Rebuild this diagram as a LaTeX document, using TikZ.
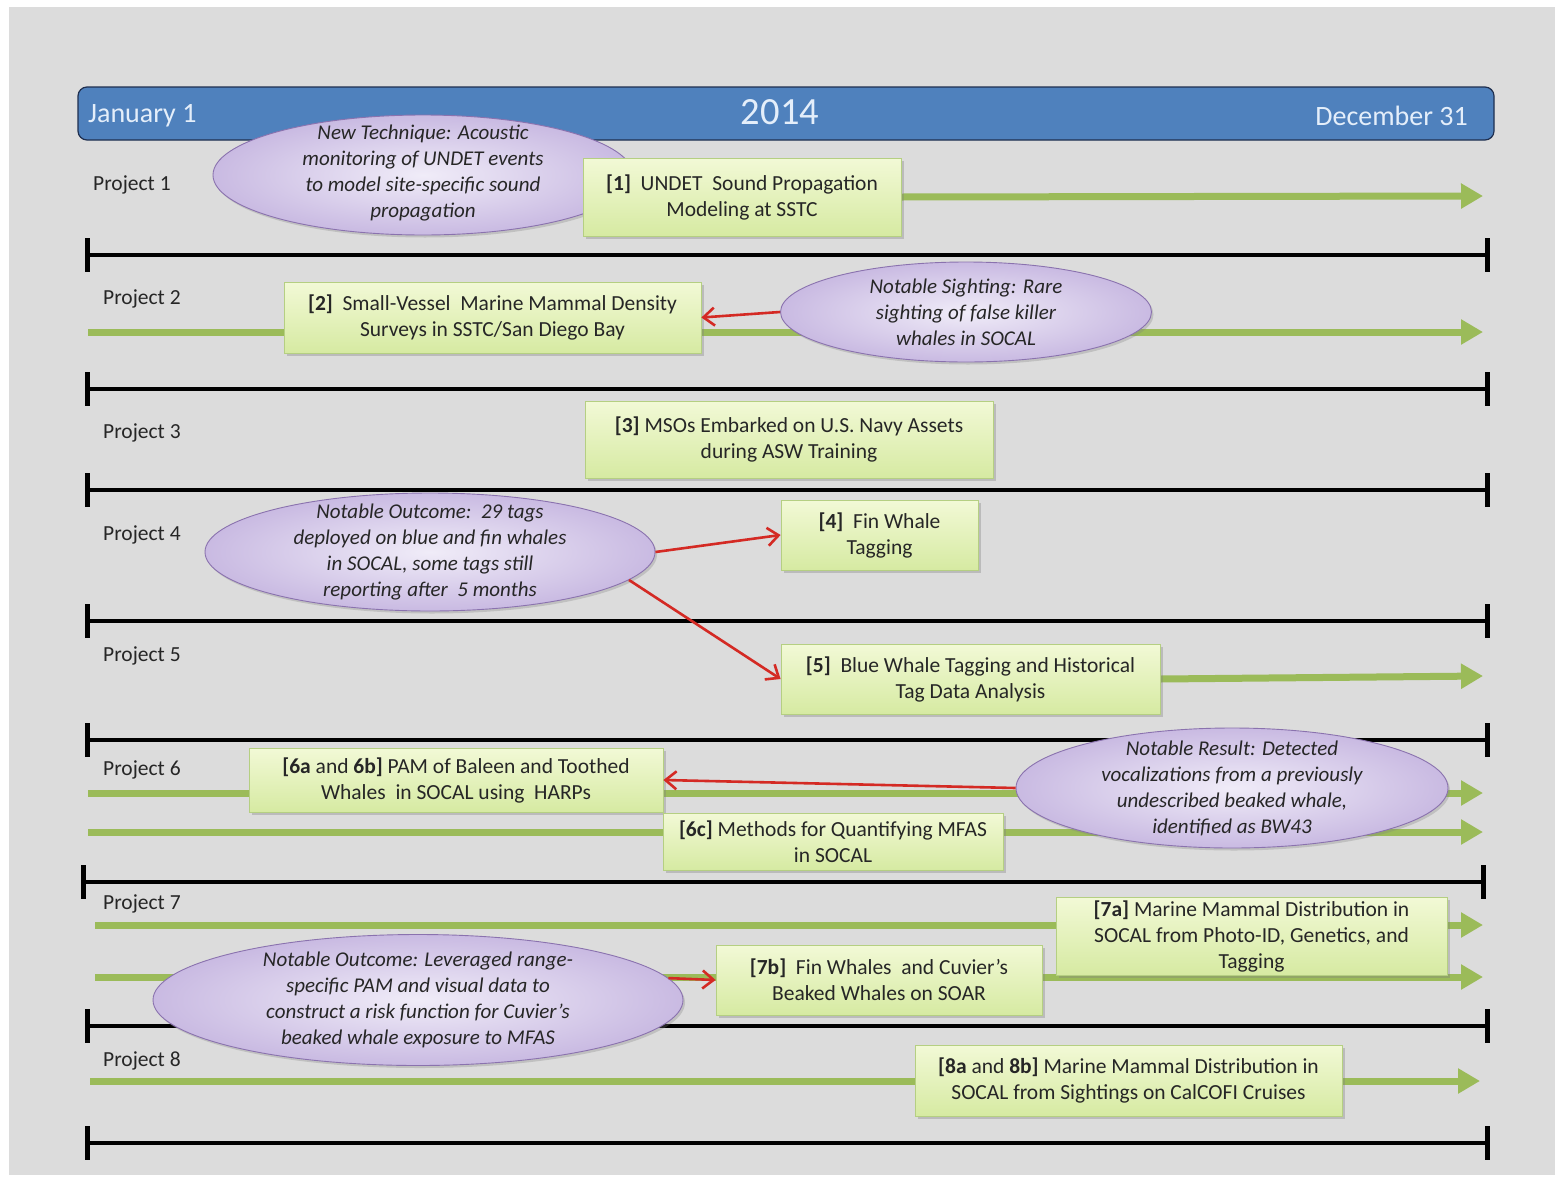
\documentclass[tikz,border=0pt]{standalone}
\usepackage{fontspec}
\setmainfont{Carlito}
\usetikzlibrary{arrows.meta,shapes.geometric,shadows}
\definecolor{panel}{HTML}{DCDCDC}
\definecolor{hdrblue}{HTML}{4F81BD}
\definecolor{hdrline}{HTML}{1F2F4F}
\definecolor{grn}{HTML}{9BBB59}
\definecolor{boxtop}{HTML}{F2F9D6}
\definecolor{boxbot}{HTML}{D6EAA2}
\definecolor{boxline}{HTML}{B5CF82}
\definecolor{ellin}{HTML}{F0ECF8}
\definecolor{ellout}{HTML}{C9BAE2}
\definecolor{ellline}{HTML}{8A72AE}
\definecolor{redarr}{HTML}{D42A24}
\definecolor{txt}{HTML}{262626}
\definecolor{hdrtxt}{HTML}{E4EEFA}
\pgfdeclarelayer{bg}
\pgfsetlayers{bg,main}
\tikzset{
  hdr/.style={draw=hdrline, line width=1.2pt, fill=hdrblue, rounded corners=9pt},
  hdrlab/.style={text=hdrtxt, font=\fontsize{28}{32}\selectfont, inner sep=0pt},
  projlab/.style={text=txt, font=\fontsize{21.5}{24}\selectfont, anchor=west, inner sep=0pt},
  gbox/.style={draw=boxline, line width=0.8pt, top color=boxtop, bottom color=boxbot,
    drop shadow={shadow xshift=2.5pt, shadow yshift=-2.5pt, opacity=0.35, fill=gray},
    text=txt, align=center, inner sep=0pt, font=\fontsize{21.5}{26}\selectfont},
  ell/.style={ellipse, draw=ellline, line width=0.9pt, inner color=ellin, outer color=ellout,
    drop shadow={shadow xshift=2pt, shadow yshift=-2.5pt, opacity=0.3, fill=gray}, inner sep=0pt},
  elltext/.style={text=txt, align=center, inner sep=0pt, font=\fontsize{21}{26}\selectfont\itshape},
  garrow/.style={draw=grn, line width=7pt, -{Triangle[length=22pt,width=24pt]}},
  redarrow/.style={draw=redarr, line width=2.6pt, -{Straight Barb[length=11pt,width=18pt,line width=2.6pt]}},
  sepline/.style={line width=4.5pt, black},
  septick/.style={line width=5pt, black}
}
\begin{document}
\begin{tikzpicture}[x=1pt,y=-1pt]
\useasboundingbox (0,0) rectangle (1566,1178);
\begin{pgfonlayer}{bg}
  \fill[white] (0,0) rectangle (1566,1178);
  \fill[panel] (9,7) rectangle (1555,1175);
\end{pgfonlayer}

% header
\node[hdr, minimum width=1416pt, minimum height=53pt] (hdr) at (786,113.5) {};
\node[hdrlab, anchor=west] (jan) at (88,116) {January 1};
\node[hdrlab, font=\fontsize{38.5}{42}\selectfont] (yr) at (780,112) {2014};
\node[hdrlab, anchor=east] (dec) at (1468,116) {December 31};

% project labels
\node[projlab] (p1) at (93,185) {Project 1};
\node[projlab] (p2) at (103,299) {Project 2};
\node[projlab] (p3) at (103,433) {Project 3};
\node[projlab] (p4) at (103,535) {Project 4};
\node[projlab] (p5) at (103,656) {Project 5};
\node[projlab] (p6) at (103,770) {Project 6};
\node[projlab] (p7) at (103,904) {Project 7};
\node[projlab] (p8) at (103,1061) {Project 8};

% ellipses
\node[ell, minimum width=420pt, minimum height=120pt] (E1) at (423,175) {};
\node[elltext] (E1t) at (423,173) {New Technique: Acoustic\\monitoring of UNDET events\\to model site-specific sound\\propagation};
\node[ell, minimum width=371pt, minimum height=100pt] (E2) at (966,312) {};
\node[elltext] (E2t) at (966,312) {Notable Sighting: Rare\\sighting of false killer\\whales in SOCAL};
\node[ell, minimum width=450pt, minimum height=118pt] (E3) at (430,552) {};
\node[elltext] (E3t) at (430,552) {Notable Outcome:\ \ 29 tags\\deployed on blue and fin whales\\in SOCAL, some tags still\\reporting after\ \ 5 months};
\node[ell, minimum width=432pt, minimum height=120pt] (E4) at (1232,788) {};
\node[elltext] (E4t) at (1232,788) {Notable Result: Detected\\vocalizations from a previously\\undescribed beaked whale,\\identified as BW43};
\node[ell, minimum width=530pt, minimum height=131pt] (E5) at (418,1000) {};
\node[elltext] (E5t) at (418,1000) {Notable Outcome: Leveraged range-\\specific PAM and visual data to\\construct a risk function for Cuvier’s\\beaked whale exposure to MFAS};

% boxes
\node[gbox, minimum width=318pt, minimum height=78pt] (b1) at (742,197) {\textbf{[1]}\ \ UNDET\ \ Sound Propagation\\Modeling at SSTC};
\node[gbox, minimum width=417pt, minimum height=71pt] (b2) at (492.5,317.5) {\textbf{[2]}\ \ Small-Vessel\ \ Marine Mammal Density\\Surveys in SSTC/San Diego Bay};
\node[gbox, minimum width=408pt, minimum height=77pt] (b3) at (789,439.5) {\textbf{[3]} MSOs Embarked on U.S. Navy Assets\\during ASW Training};
\node[gbox, minimum width=197pt, minimum height=70pt] (b4) at (879.5,535) {\textbf{[4]}\ \ Fin Whale\\Tagging};
\node[gbox, minimum width=379pt, minimum height=70pt] (b5) at (970.5,679) {\textbf{[5]}\ \ Blue Whale Tagging and Historical\\Tag Data Analysis};
\node[gbox, minimum width=414pt, minimum height=64pt] (b6ab) at (456,780) {\textbf{[6a} and \textbf{6b]} PAM of Baleen and Toothed\\Whales\ \ in SOCAL using\ \ HARPs};
\node[gbox, minimum width=340pt, minimum height=57pt] (b6c) at (833,841.5) {\textbf{[6c]} Methods for Quantifying MFAS\\in SOCAL};
\node[gbox, minimum width=391pt, minimum height=78pt] (b7a) at (1251.5,936) {\textbf{[7a]} Marine Mammal Distribution in\\SOCAL from Photo-ID, Genetics, and\\Tagging};
\node[gbox, minimum width=326pt, minimum height=70pt] (b7b) at (879,980) {\textbf{[7b]}\ \ Fin Whales\ \ and Cuvier’s\\Beaked Whales on SOAR};
\node[gbox, minimum width=427pt, minimum height=71pt] (b8) at (1128.5,1080.5) {\textbf{[8a} and \textbf{8b]} Marine Mammal Distribution in\\SOCAL from Sightings on CalCOFI Cruises};

% timeline end points
\coordinate (e1) at (1483,196);
\coordinate (s2) at (88,332);  \coordinate (e2) at (1483,332);
\coordinate (e5) at (1483,676);
\coordinate (s6a) at (88,793); \coordinate (e6a) at (1483,793);
\coordinate (s6c) at (88,832); \coordinate (e6c) at (1483,832);
\coordinate (s7a) at (95,925); \coordinate (e7a) at (1483,925);
\coordinate (s7b) at (95,977); \coordinate (e7b) at (1483,977);
\coordinate (s8) at (90,1081); \coordinate (e8) at (1480,1081);

\begin{pgfonlayer}{bg}
  % separators
  \foreach \yy/\xa/\xb in {255/87/1487, 389/87/1487, 490/87/1487, 621/87/1487, 740/87/1487, 882/83/1483, 1026/87/1487, 1143/87/1487}{
    \draw[sepline] (\xa,\yy) -- (\xb,\yy);
    \draw[septick] (\xa,\yy-17) -- (\xa,\yy+17);
    \draw[septick] (\xb,\yy-17) -- (\xb,\yy+17);
  }
  % green arrows
  \draw[garrow] (b1.east) -- (e1);
  \draw[garrow] (s2) -- (e2);
  \draw[garrow] (b5.east) -- (e5);
  \draw[garrow] (s6a) -- (e6a);
  \draw[garrow] (s6c) -- (e6c);
  \draw[garrow] (s7a) -- (e7a);
  \draw[garrow] (s7b) -- (e7b);
  \draw[garrow] (s8) -- (e8);
\end{pgfonlayer}

% red arrows
\draw[redarrow] (E2.west) -- (b2.east);
\draw[redarrow] (E3.east) -- (b4.west);
\draw[redarrow] (E3.-8) -- (b5.west);
\draw[redarrow] (E4.west) -- (b6ab.east);
\draw[redarrow] (E5.5) -- (b7b.west);
\end{tikzpicture}
\end{document}
